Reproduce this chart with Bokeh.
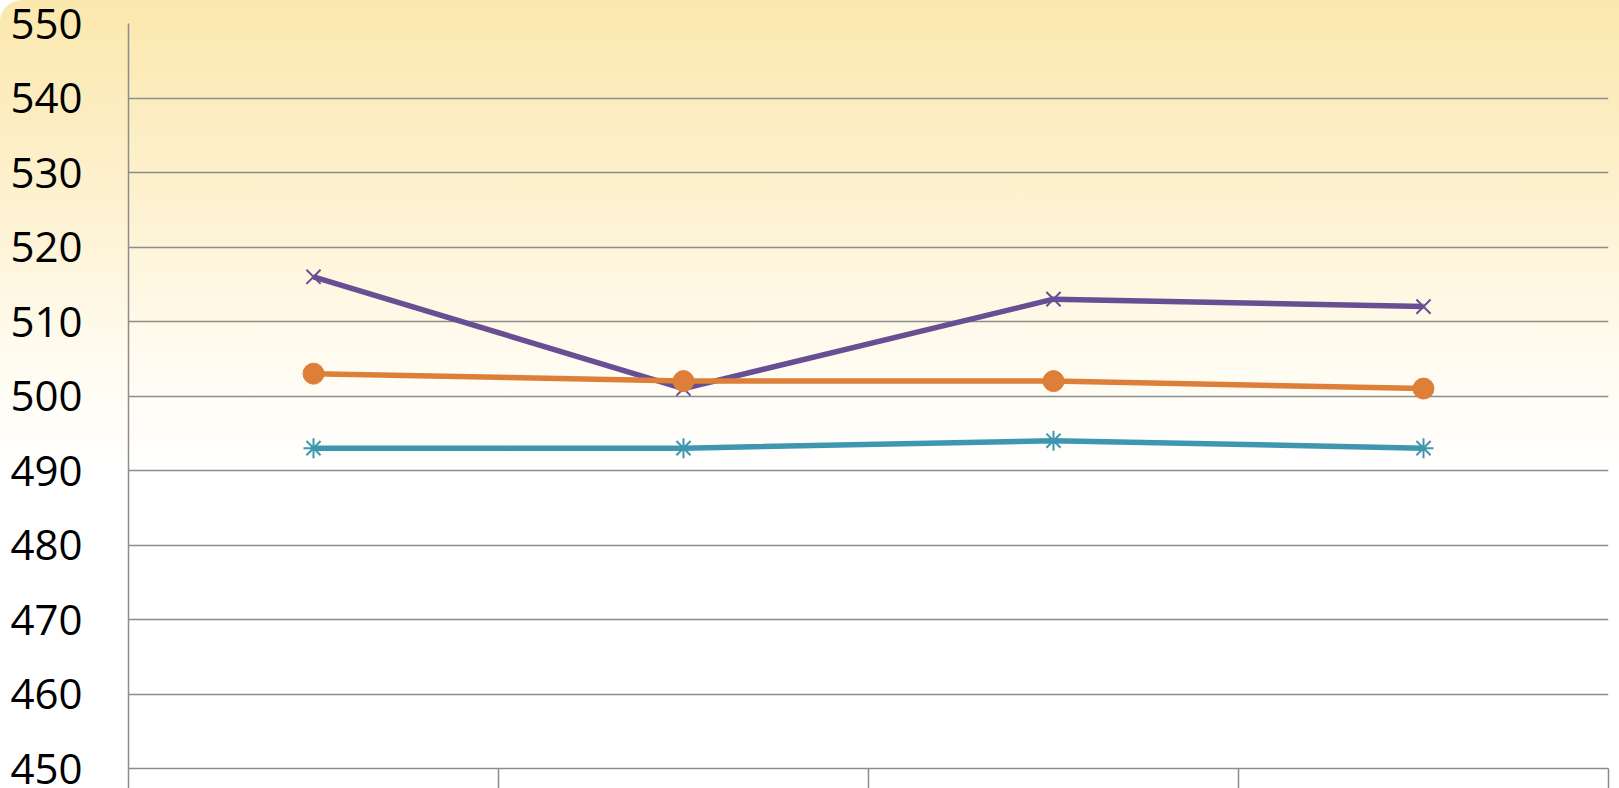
from bokeh.plotting import figure
from bokeh.models import FixedTicker, Range1d
from bokeh.embed import file_html
from bokeh.resources import INLINE

categories = ["1", "2", "3", "4"]
series_purple = [516, 501, 513, 512]
series_orange = [503, 502, 502, 501]
series_teal = [493, 493, 494, 493]
y_ticks = [450, 460, 470, 480, 490, 500, 510, 520, 530, 540, 550]

xs = [i + 0.5 for i in range(len(categories))]

p = figure(width=1619, height=788, output_backend="svg", toolbar_location=None,
           x_range=Range1d(0, len(categories)), y_range=Range1d(450, 550),
           min_border_left=128, min_border_right=11, min_border_top=23, min_border_bottom=20)
p.styles = {"background": "linear-gradient(to bottom, #FBE8AD 0%, #FDF1CF 25%, #FFFBEF 45%, #FFFFFF 60%, #FFFFFF 100%)",
            "border-radius": "22px 0 0 0"}
p.background_fill_color = None
p.border_fill_color = None
p.outline_line_color = None

grid_col = "#8C8C8C"
p.xgrid.grid_line_color = None
p.ygrid.grid_line_color = grid_col
p.ygrid.grid_line_width = 1.5
p.ygrid.ticker = FixedTicker(ticks=y_ticks)

p.yaxis.ticker = FixedTicker(ticks=y_ticks)
p.yaxis.axis_line_color = grid_col
p.yaxis.axis_line_width = 1.5
p.yaxis.major_tick_out = 0
p.yaxis.major_tick_in = 0
p.yaxis.minor_tick_line_color = None
p.yaxis.major_label_text_font = "Open Sans"
p.yaxis.major_label_text_font_size = "42px"
p.yaxis.major_label_text_color = "#000000"
p.yaxis.major_label_standoff = 46

p.xaxis.ticker = FixedTicker(ticks=list(range(len(categories) + 1)))
p.xaxis.major_label_overrides = {i: "" for i in range(len(categories) + 1)}
p.xaxis.major_label_text_font_size = "0px"
p.xaxis.major_label_standoff = 0
p.xaxis.axis_line_color = grid_col
p.xaxis.axis_line_width = 1.5
p.xaxis.major_tick_line_color = grid_col
p.xaxis.major_tick_line_width = 1.5
p.xaxis.major_tick_out = 20
p.xaxis.major_tick_in = 0
p.xaxis.minor_tick_line_color = None

purple = "#684E93"
orange = "#DD7F38"
teal = "#3E97AE"

p.line(xs, series_purple, line_color=purple, line_width=5.5)
p.scatter(xs, series_purple, marker="x", size=20, line_color=purple, line_width=2)

p.line(xs, series_orange, line_color=orange, line_width=5.5)
p.scatter(xs, series_orange, marker="circle", size=21, fill_color=orange, line_color=orange)

p.line(xs, series_teal, line_color=teal, line_width=5.5)
p.scatter(xs, series_teal, marker="asterisk", size=20, line_color=teal, line_width=2)

open("out.html", "w").write(file_html(p, INLINE))
